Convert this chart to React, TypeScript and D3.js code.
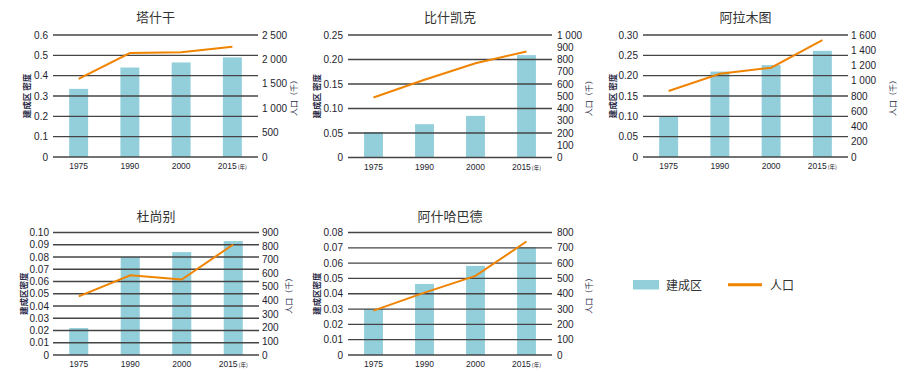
import React from "react";
import * as d3 from "d3";

const years = ["1975", "1990", "2000", "2015"];
const titles = ["塔什干", "比什凯克", "阿拉木图", "杜尚别", "阿什哈巴德"];

// built-up area density (left axis)
const builtTashkent = [0.335, 0.44, 0.465, 0.49];
const builtBishkek = [0.052, 0.068, 0.085, 0.209];
const builtAlmaty = [0.099, 0.21, 0.226, 0.261];
const builtDushanbe = [0.022, 0.08, 0.084, 0.093];
const builtAshgabat = [0.03, 0.0464, 0.0582, 0.0704];

// population, thousands (right axis)
const popTashkent = [1600, 2130, 2145, 2260];
const popBishkek = [490, 635, 770, 865];
const popAlmaty = [866, 1092, 1171, 1534];
const popDushanbe = [431, 585, 555, 812];
const popAshgabat = [290, 407, 517, 741];

// tick labels
const leftTicks1 = ["0", "0.1", "0.2", "0.3", "0.4", "0.5", "0.6"];
const leftTicks2 = ["0", "0.05", "0.10", "0.15", "0.20", "0.25"];
const leftTicks3 = ["0", "0.05", "0.10", "0.15", "0.20", "0.25", "0.30"];
const leftTicks4 = ["0", "0.01", "0.02", "0.03", "0.04", "0.05", "0.06", "0.07", "0.08", "0.09", "0.10"];
const leftTicks5 = ["0", "0.01", "0.02", "0.03", "0.04", "0.05", "0.06", "0.07", "0.08"];

const rightTicks1 = ["0", "500", "1 000", "1 500", "2 000", "2 500"];
const rightTicks2 = ["0", "100", "200", "300", "400", "500", "600", "700", "800", "900", "1 000"];
const rightTicks3 = ["0", "200", "400", "600", "800", "1 000", "1 200", "1 400", "1 600"];
const rightTicks4 = ["0", "100", "200", "300", "400", "500", "600", "700", "800", "900"];
const rightTicks5 = ["0", "100", "200", "300", "400", "500", "600", "700", "800"];

const leftAxisLabels = ["建成区 密度", "建成区 密度", "建成区 密度", "建成区密度", "建成区密度"];
const rightAxisLabel = "人口（千）";
const legendLabels = ["建成区", "人口"];

const built = [builtTashkent, builtBishkek, builtAlmaty, builtDushanbe, builtAshgabat];
const pops = [popTashkent, popBishkek, popAlmaty, popDushanbe, popAshgabat];
const leftTicks = [leftTicks1, leftTicks2, leftTicks3, leftTicks4, leftTicks5];
const rightTicks = [rightTicks1, rightTicks2, rightTicks3, rightTicks4, rightTicks5];

// layout (positions only)
const layouts = [
  { x0: 53, x1: 258, yTop: 35, yBot: 157, lx: 48, rx: 262, ylx: 26, yrx: 293, titleY: 22 },
  { x0: 348, x1: 552, yTop: 35, yBot: 157.5, lx: 343, rx: 557, ylx: 316, yrx: 588, titleY: 22 },
  { x0: 643, x1: 848, yTop: 35, yBot: 157, lx: 638, rx: 851, ylx: 612, yrx: 892, titleY: 22 },
  { x0: 53, x1: 259, yTop: 232.5, yBot: 355, lx: 49, rx: 262, ylx: 23, yrx: 288, titleY: 221 },
  { x0: 348, x1: 552, yTop: 232.5, yBot: 355, lx: 343, rx: 557, ylx: 316, yrx: 588, titleY: 221 },
];

const BAR = "#93cfdb";
const LINE = "#f08300";
const GRID = "#444";
const TXT = "#1e1e2e";
const LATIN = "'Liberation Sans', Arial, sans-serif";
const CJK = "'Noto Sans CJK SC', 'Noto Sans', sans-serif";

const parseNum = (s: string) => +s.replace(/\s/g, "");

function Panel({ i }: { i: number }) {
  const L = layouts[i];
  const lt = leftTicks[i];
  const rt = rightTicks[i];
  const lMax = parseNum(lt[lt.length - 1]);
  const rMax = parseNum(rt[rt.length - 1]);
  const x = d3
    .scaleBand<string>()
    .domain(years)
    .range([L.x0, L.x1])
    .paddingInner(0.63)
    .paddingOuter(0.315);
  const yL = d3.scaleLinear().domain([0, lMax]).range([L.yBot, L.yTop]);
  const yR = d3.scaleLinear().domain([0, rMax]).range([L.yBot, L.yTop]);
  const line = d3
    .line<number>()
    .x((_, k) => (x(years[k]) as number) + x.bandwidth() / 2)
    .y((d) => yR(d));
  const yMid = (L.yTop + L.yBot) / 2;
  return (
    <g>
      <text
        x={(L.x0 + L.x1) / 2}
        y={L.titleY}
        textAnchor="middle"
        fontFamily={CJK}
        fontSize={13}
        fill="#333"
      >
        {titles[i]}
      </text>
      {built[i].map((v, k) => (
        <rect
          key={k}
          x={x(years[k])}
          y={yL(v)}
          width={x.bandwidth()}
          height={L.yBot - yL(v)}
          fill={BAR}
        />
      ))}
      {lt.map((t, k) => (
        <g key={k}>
          <line
            x1={L.x0}
            x2={L.x1}
            y1={yL(parseNum(t))}
            y2={yL(parseNum(t))}
            stroke={GRID}
            strokeWidth={1.3}
          />
          <text
            x={L.lx}
            y={yL(parseNum(t)) + 3.5}
            textAnchor="end"
            fontFamily={LATIN}
            fontSize={10}
            fill={TXT}
          >
            {t}
          </text>
        </g>
      ))}
      {rt.map((t, k) => (
        <text
          key={k}
          x={L.rx}
          y={yR(parseNum(t)) + 3.5}
          textAnchor="start"
          fontFamily={LATIN}
          fontSize={10}
          fill={TXT}
        >
          {t}
        </text>
      ))}
      <path d={line(pops[i]) || ""} fill="none" stroke={LINE} strokeWidth={2} />
      {years.map((yr, k) => (
        <text
          key={yr}
          x={(x(yr) as number) + x.bandwidth() / 2}
          y={L.yBot + 12}
          textAnchor="middle"
          fontFamily={LATIN}
          fontSize={8.5}
          fill={TXT}
        >
          {yr}
          {k === years.length - 1 ? (
            <tspan fontFamily={CJK} fontSize={5.5} dx={1}>
              (年)
            </tspan>
          ) : null}
        </text>
      ))}
      <text
        transform={`translate(${L.ylx},${yMid}) rotate(-90)`}
        textAnchor="middle"
        dominantBaseline="central"
        fontFamily={CJK}
        fontSize={8.5}
        fontWeight="bold"
        fill="#2a2a48"
      >
        {leftAxisLabels[i]}
      </text>
      <text
        transform={`translate(${L.yrx},${yMid}) rotate(-90)`}
        textAnchor="middle"
        dominantBaseline="central"
        fontFamily={CJK}
        fontSize={8}
        fill="#2a2a48"
      >
        {rightAxisLabel}
      </text>
    </g>
  );
}

export default function App() {
  return (
    <svg width={904} height={378} style={{ position: "absolute", left: 0, top: 0, background: "#fff" }}>
      <rect width={904} height={378} fill="#fff" />
      {titles.map((_, i) => (
        <Panel key={i} i={i} />
      ))}
      <g>
        <rect x={633} y={280} width={26} height={9.5} fill={BAR} />
        <text x={666} y={289.5} fontFamily={CJK} fontSize={12} fill="#333">
          {legendLabels[0]}
        </text>
        <line x1={728} x2={762} y1={284.7} y2={284.7} stroke={LINE} strokeWidth={3} />
        <text x={770} y={289.5} fontFamily={CJK} fontSize={12} fill="#333">
          {legendLabels[1]}
        </text>
      </g>
    </svg>
  );
}
